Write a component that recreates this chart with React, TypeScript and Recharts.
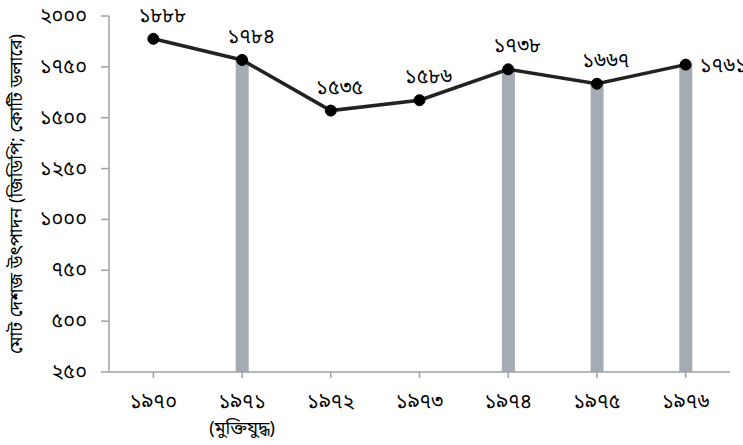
import React from 'react';
import { ComposedChart, Bar, Line, XAxis, YAxis, LabelList, Label } from 'recharts';

const years = ['১৯৭০', '১৯৭১', '১৯৭২', '১৯৭৩', '১৯৭৪', '১৯৭৫', '১৯৭৬'];
const yearNotes = ['', '(মুক্তিযুদ্ধ)', '', '', '', '', ''];
const gdp = [1888, 1784, 1535, 1586, 1738, 1667, 1761];
const highlight = [null, 1784, null, null, 1738, 1667, 1761];
const yTicks = [250, 500, 750, 1000, 1250, 1500, 1750, 2000];

const bnDigits = ['০', '১', '২', '৩', '৪', '৫', '৬', '৭', '৮', '৯'];
const toBn = (n: number) => String(n).replace(/[0-9]/g, (d) => bnDigits[Number(d)]);

const data = years.map((y, i) => ({ year: y, note: yearNotes[i], gdp: gdp[i], bar: highlight[i] }));

const FONT = '"Noto Sans Bengali", "Noto Serif Bengali", "Lohit Bengali", FreeSerif, "Noto Sans", sans-serif';
const FS = 20;

const XTick = (props: any) => {
  const { x, y, payload, index } = props;
  const note = yearNotes[index];
  return (
    <g>
      <text x={x} y={y + 28} textAnchor="middle" fontSize={FS} fill="#000" fontFamily={FONT}>{payload.value}</text>
      {note ? <text x={x} y={y + 54} textAnchor="middle" fontSize={18} fill="#000" fontFamily={FONT}>{note}</text> : null}
    </g>
  );
};

const YTick = (props: any) => {
  const { x, y, payload } = props;
  return (
    <text x={x - 12} y={y + 6} textAnchor="end" fontSize={FS} fill="#000" fontFamily={FONT}>{toBn(payload.value)}</text>
  );
};

const PointLabel = (props: any) => {
  const { x, y, value, index } = props;
  if (index === years.length - 1) {
    return <text x={x + 14} y={y + 7} textAnchor="start" fontSize={FS} fill="#000" fontFamily={FONT}>{toBn(value)}</text>;
  }
  return <text x={x + 9} y={y - 17} textAnchor="middle" fontSize={FS} fill="#000" fontFamily={FONT}>{toBn(value)}</text>;
};

export default function App() {
  return (
    <div style={{ position: 'absolute', left: 0, top: 0, width: 743, height: 445, background: '#fff' }}>
      <ComposedChart width={743} height={445} data={data} margin={{ top: 16, right: 13, bottom: 0, left: 0 }}>
        <XAxis
          dataKey="year"
          height={73}
          stroke="#A0A0A0"
          strokeWidth={1.5}
          tickLine={{ stroke: '#A0A0A0' }}
          tickSize={6}
          interval={0}
          tick={<XTick />}
        />
        <YAxis
          width={109}
          domain={[250, 2000]}
          ticks={yTicks}
          stroke="#A0A0A0"
          strokeWidth={1.5}
          tickSize={8}
          tick={<YTick />}
          allowDataOverflow
        >
          <Label
            value="মোট দেশজ উৎপাদন (জিডিপি; কোটি ডলারে)"
            angle={-90}
            position="insideLeft"
            offset={16}
            style={{ textAnchor: 'middle', fontSize: 18, fill: '#000', fontFamily: FONT }}
          />
        </YAxis>
        <Bar dataKey="bar" fill="#A5ABB2" barSize={13} isAnimationActive={false} />
        <Line
          dataKey="gdp"
          stroke="#222"
          strokeWidth={3.5}
          dot={{ r: 5.5, fill: '#000', stroke: '#000', strokeWidth: 1 }}
          isAnimationActive={false}
        >
          <LabelList dataKey="gdp" content={<PointLabel />} />
        </Line>
      </ComposedChart>
    </div>
  );
}
